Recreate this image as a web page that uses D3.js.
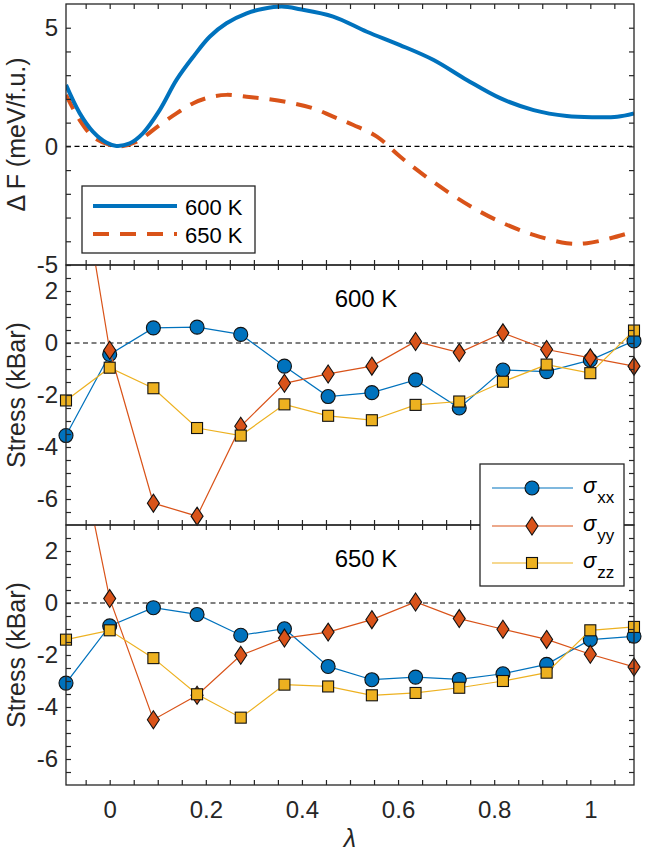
<!DOCTYPE html>
<html><head><meta charset="utf-8">
<script src="https://cdn.jsdelivr.net/npm/d3@7"></script>
<style>body{margin:0;background:#fff} svg{display:block}</style>
</head><body><svg id="chart" width="645" height="854"></svg>
<script>
// ---- Free-energy curves (top panel) ----
const lambdaF600 = [-0.0909, -0.0625, -0.035, -0.007, 0.014, 0.042, 0.069, 0.104, 0.139, 0.174, 0.208, 0.243, 0.285, 0.32, 0.358, 0.396, 0.465, 0.535, 0.604, 0.674, 0.743, 0.8125, 0.882, 0.951, 1.007, 1.056, 1.0909];
const dF600 = [2.59, 1.4, 0.62, 0.16, 0.02, 0.13, 0.55, 1.53, 2.8, 3.78, 4.62, 5.19, 5.61, 5.8, 5.89, 5.78, 5.47, 4.83, 4.27, 3.64, 2.80, 2.03, 1.53, 1.28, 1.23, 1.25, 1.39];
const lambdaF650 = [-0.0909, -0.0625, -0.035, 0, 0.017, 0.056, 0.104, 0.139, 0.174, 0.208, 0.243, 0.285, 0.326, 0.375, 0.424, 0.465, 0.507, 0.556, 0.604, 0.653, 0.708, 0.764, 0.819, 0.882, 0.951, 0.993, 1.042, 1.0909];
const dF650 = [2.17, 1.11, 0.41, 0.06, -0.01, 0.2, 0.9, 1.39, 1.82, 2.07, 2.17, 2.09, 2.0, 1.84, 1.6, 1.25, 0.9, 0.41, -0.43, -1.2, -1.98, -2.68, -3.24, -3.73, -4.08, -4.08, -3.87, -3.59];

// ---- Stress data ----
const lambdaStress = [-0.0909, 0, 0.0909, 0.1818, 0.2727, 0.3636, 0.4545, 0.5455, 0.6364, 0.7273, 0.8182, 0.9091, 1, 1.0909];
const sxx600 = [-3.56, -0.44, 0.58, 0.61, 0.33, -0.89, -2.06, -1.91, -1.42, -2.5, -1.04, -1.1, -0.66, 0.08];
const syy600 = [9.9, -0.28, -6.16, -6.66, -3.2, -1.55, -1.19, -0.89, 0.06, -0.37, 0.39, -0.25, -0.57, -0.89];
const szz600 = [-2.21, -0.95, -1.74, -3.27, -3.56, -2.36, -2.8, -2.97, -2.38, -2.25, -1.49, -0.83, -1.16, 0.48];
const sxx650 = [-3.08, -0.88, -0.18, -0.44, -1.24, -0.99, -2.44, -2.95, -2.85, -2.94, -2.72, -2.36, -1.41, -1.28];
const syy650 = [8.4, 0.17, -4.49, -3.55, -2.01, -1.35, -1.12, -0.64, 0.04, -0.6, -1.01, -1.4, -1.97, -2.46];
const szz650 = [-1.41, -1.05, -2.12, -3.51, -4.41, -3.14, -3.21, -3.55, -3.46, -3.26, -3.0, -2.68, -1.05, -0.92];

// ---- Ticks / labels ----
const xMajor = [0, 0.2, 0.4, 0.6, 0.8, 1];
const xMinor = [-0.05, 0.05, 0.1, 0.15, 0.25, 0.3, 0.35, 0.45, 0.5, 0.55, 0.65, 0.7, 0.75, 0.85, 0.9, 0.95, 1.05];
const yMajorF = [-5, 0, 5];
const yMinorF = [-4, -3, -2, -1, 1, 2, 3, 4];
const yMajorS = [-6, -4, -2, 0, 2];
const yMinorS = [-6.5, -5.5, -5, -4.5, -3.5, -3, -2.5, -1.5, -1, -0.5, 0.5, 1, 1.5, 2.5];
const freeLabels = ["600 K", "650 K"];
const stressNames = ["xx", "yy", "zz"];
const panelTitles = ["600 K", "650 K"];

const C_BLUE = "#0072BD", C_ORANGE = "#D95319", C_YELLOW = "#EDB120";
const AX = "#262626";
const FONT = '"Liberation Sans", Arial, Helvetica, sans-serif';

const svg = d3.select("#chart");
const L = 66, R = 634;
const x = d3.scaleLinear().domain([lambdaStress[0], lambdaStress[lambdaStress.length - 1]]).range([L, R]);
const yF = d3.scaleLinear().domain([-5, 6]).range([265, 4]);
const yS1 = d3.scaleLinear().domain([-7, 3]).range([525, 265]);
const yS2 = d3.scaleLinear().domain([-7, 3]).range([785, 525]);

function clip(id, y) {
  const [b, t] = y.range();
  svg.append("clipPath").attr("id", id).append("rect")
    .attr("x", L).attr("y", t).attr("width", R - L).attr("height", b - t);
  return `url(#${id})`;
}

function styleAxis(g) {
  g.select(".domain").remove();
  g.selectAll(".tick line").attr("stroke", AX).attr("stroke-width", 1.2);
  g.selectAll("text").attr("font-family", FONT).attr("font-size", 24).attr("fill", AX);
}

function axes(y, yMajor, yMinor, showX) {
  const [b, t] = y.range();
  const g = svg.append("g");
  g.append("g").attr("transform", `translate(${L},0)`)
    .call(d3.axisLeft(y).tickValues(yMajor).tickSize(-5).tickPadding(8).tickFormat(d => String(d))).call(styleAxis);
  g.append("g").attr("transform", `translate(${L},0)`)
    .call(d3.axisLeft(y).tickValues(yMinor).tickSize(-5).tickFormat("")).call(styleAxis);
  g.append("g").attr("transform", `translate(${R},0)`)
    .call(d3.axisRight(y).tickValues(yMajor.concat(yMinor)).tickSize(-5).tickFormat("")).call(styleAxis);
  g.append("g").attr("transform", `translate(0,${b})`)
    .call(d3.axisBottom(x).tickValues(xMajor).tickSize(-5).tickPadding(16).tickFormat(showX ? (d => String(d)) : "")).call(styleAxis);
  g.append("g").attr("transform", `translate(0,${b})`)
    .call(d3.axisBottom(x).tickValues(xMinor).tickSize(-5).tickFormat("")).call(styleAxis);
  g.append("g").attr("transform", `translate(0,${t})`)
    .call(d3.axisTop(x).tickValues(xMajor.concat(xMinor)).tickSize(-5).tickFormat("")).call(styleAxis);
  g.append("rect").attr("x", L).attr("y", t).attr("width", R - L).attr("height", b - t)
    .attr("fill", "none").attr("stroke", AX).attr("stroke-width", 1.3);
}

function zeroLine(y) {
  svg.append("line").attr("x1", L).attr("x2", R).attr("y1", y(0)).attr("y2", y(0))
    .attr("stroke", "#000").attr("stroke-width", 1.2).attr("stroke-dasharray", "5,3.5");
}

// ---------- Top panel ----------
const cF = clip("cF", yF);
zeroLine(yF);
const lineF = d3.line().curve(d3.curveCatmullRom.alpha(0.5)).x(d => x(d[0])).y(d => yF(d[1]));
svg.append("path").attr("clip-path", cF).attr("d", lineF(d3.zip(lambdaF650, dF650)))
  .attr("fill", "none").attr("stroke", C_ORANGE).attr("stroke-width", 4).attr("stroke-dasharray", "16,11");
svg.append("path").attr("clip-path", cF).attr("d", lineF(d3.zip(lambdaF600, dF600)))
  .attr("fill", "none").attr("stroke", C_BLUE).attr("stroke-width", 4);
axes(yF, yMajorF, yMinorF, false);

// legend (top)
const lg1 = svg.append("g");
lg1.append("rect").attr("x", 82).attr("y", 186).attr("width", 173).attr("height", 67)
  .attr("fill", "#fff").attr("stroke", AX).attr("stroke-width", 1.3);
[[C_BLUE, null, 206], [C_ORANGE, "16,11", 234]].forEach((s, i) => {
  lg1.append("line").attr("x1", 93).attr("x2", 177).attr("y1", s[2]).attr("y2", s[2])
    .attr("stroke", s[0]).attr("stroke-width", 4).attr("stroke-dasharray", s[1]);
  lg1.append("text").attr("x", 185).attr("y", s[2] + 9).text(freeLabels[i])
    .attr("font-family", FONT).attr("font-size", 22).attr("fill", "#000");
});

// ---------- Stress panels ----------
function marker(sel, type) {
  if (type === "circle") return sel.append("circle").attr("r", 7);
  if (type === "diamond") return sel.append("path").attr("d", "M0,-9L6,0L0,9L-6,0Z");
  return sel.append("rect").attr("x", -5.5).attr("y", -5.5).attr("width", 11).attr("height", 11);
}
const seriesStyle = [
  { color: C_BLUE, type: "circle" },
  { color: C_ORANGE, type: "diamond" },
  { color: C_YELLOW, type: "square" }
];

function stressPanel(y, data, id, title) {
  const cp = clip(id, y);
  zeroLine(y);
  const line = d3.line().x(d => x(d[0])).y(d => y(d[1]));
  const [ymin, ymax] = y.domain();
  data.forEach((vals, i) => {
    const st = seriesStyle[i];
    const pts = d3.zip(lambdaStress, vals);
    const g = svg.append("g");
    g.append("path").attr("clip-path", cp).attr("d", line(pts)).attr("fill", "none")
      .attr("stroke", st.color).attr("stroke-width", 1.2);
    pts.filter(p => p[1] >= ymin && p[1] <= ymax).forEach(p => {
      const m = g.append("g").attr("transform", `translate(${x(p[0])},${y(p[1])})`);
      marker(m, st.type).attr("fill", st.color).attr("stroke", "#111").attr("stroke-width", 1.1);
    });
  });
  axes(y, yMajorS, yMinorS, id === "cS2");
  svg.append("text").attr("x", 366).attr("y", y(3) + 42).attr("text-anchor", "middle")
    .attr("font-family", FONT).attr("font-size", 24).attr("fill", "#000").text(title);
}
stressPanel(yS1, [sxx600, syy600, szz600], "cS1", panelTitles[0]);
stressPanel(yS2, [sxx650, syy650, szz650], "cS2", panelTitles[1]);

// legend (stress)
const lg2 = svg.append("g");
lg2.append("rect").attr("x", 480).attr("y", 464).attr("width", 144).attr("height", 122)
  .attr("fill", "#fff").attr("stroke", AX).attr("stroke-width", 1.3);
[488, 526, 563].forEach((ry, i) => {
  const st = seriesStyle[i];
  lg2.append("line").attr("x1", 492).attr("x2", 573).attr("y1", ry).attr("y2", ry)
    .attr("stroke", st.color).attr("stroke-width", 1.2);
  const m = lg2.append("g").attr("transform", `translate(532,${ry})`);
  marker(m, st.type).attr("fill", st.color).attr("stroke", "#111").attr("stroke-width", 1.1);
  const t = lg2.append("text").attr("x", 583).attr("y", ry + 5)
    .attr("font-family", FONT).attr("fill", "#000");
  t.append("tspan").attr("font-size", 22).attr("font-style", "italic").text("σ");
  t.append("tspan").attr("font-size", 17).attr("dx", 1).attr("dy", 10).text(stressNames[i]);
});

// axis labels
function yLabel(txt, cy) {
  svg.append("text").attr("transform", `translate(25,${cy}) rotate(-90)`).attr("text-anchor", "middle")
    .attr("font-family", FONT).attr("font-size", 25).attr("fill", AX).text(txt);
}
yLabel("Δ F (meV/f.u.)", (yF.range()[0] + yF.range()[1]) / 2);
yLabel("Stress (kBar)", (yS1.range()[0] + yS1.range()[1]) / 2);
yLabel("Stress (kBar)", (yS2.range()[0] + yS2.range()[1]) / 2);
svg.append("text").attr("x", (L + R) / 2).attr("y", 847).attr("text-anchor", "middle")
  .attr("font-family", FONT).attr("font-size", 25).attr("font-style", "italic").attr("fill", AX).text("λ");
</script>
</body></html>
